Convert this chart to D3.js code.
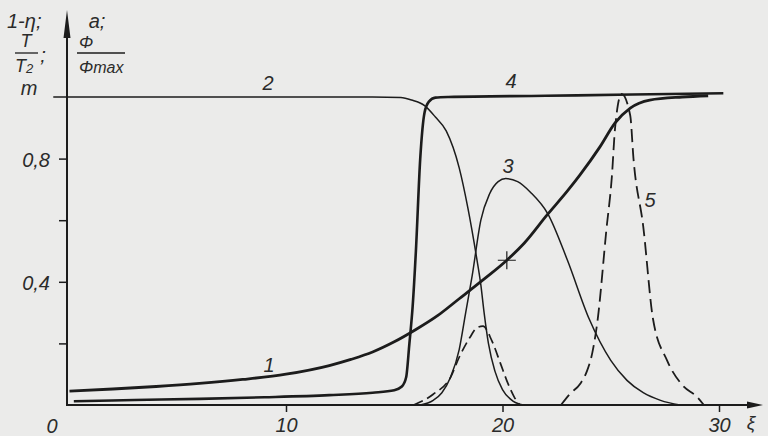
<!DOCTYPE html>
<html>
<head>
<meta charset="utf-8">
<script src="https://cdnjs.cloudflare.com/ajax/libs/d3/7.8.5/d3.min.js"></script>
<style>
body { margin: 0; background: #ebebea; }
svg { display: block; }
text { font-family: "Liberation Sans", "DejaVu Sans", sans-serif; font-style: italic; fill: #2b2b2b; }
</style>
</head>
<body>
<svg id="svg" width="768" height="436"></svg>
<script>
// curve 1 (thick)
var xi1 = [0, 2, 4, 6, 8, 10, 12, 13, 14, 15, 16, 17, 18, 19.1, 20.2, 21, 22.06, 23, 23.58, 24.5, 25.2, 25.9, 26.8, 28.3, 29.5];
var c1  = [0.045, 0.052, 0.06, 0.07, 0.083, 0.1, 0.128, 0.148, 0.172, 0.205, 0.245, 0.29, 0.345, 0.406, 0.47, 0.525, 0.617, 0.695, 0.747, 0.838, 0.916, 0.964, 0.99, 1.0, 1.004];
// curve 4 (thick, steep rise)
var xi4 = [0.2, 3, 6, 9, 12, 14, 15, 15.35, 15.55, 15.7, 15.85, 16.0, 16.2, 16.4, 16.6, 16.9, 17.5, 22, 26, 30.2];
var c4  = [0.012, 0.016, 0.02, 0.025, 0.032, 0.04, 0.048, 0.06, 0.09, 0.2, 0.32, 0.5, 0.8, 0.95, 0.985, 0.998, 1.0, 1.004, 1.008, 1.012];
// curve 2 (thin)
var xi2 = [-0.75, 5, 10, 14, 15.3, 15.8, 16.4, 16.9, 17.4, 18.0, 18.4, 18.8, 19.0, 19.15, 19.35, 19.65, 20.0, 20.5, 21.0];
var c2  = [1.0, 1.0, 1.0, 1.0, 0.998, 0.99, 0.972, 0.935, 0.89, 0.77, 0.64, 0.48, 0.39, 0.3, 0.2, 0.11, 0.05, 0.012, 0];
// curve 3 (thin)
var xi3 = [16.2, 16.8, 17.2, 17.6, 18.0, 18.3, 18.6, 19.0, 19.4, 19.8, 20.15, 20.7, 21.3, 22.1, 23.0, 24.0, 25.0, 25.75, 26.5, 27.3, 28.2];
var c3  = [0, 0.015, 0.04, 0.09, 0.18, 0.3, 0.42, 0.6, 0.685, 0.725, 0.735, 0.725, 0.69, 0.62, 0.47, 0.28, 0.145, 0.08, 0.04, 0.015, 0];
// small dashed peak
var xiD = [15.9, 16.8, 17.6, 18.0, 18.5, 18.8, 19.1, 19.5, 19.9, 20.25, 20.55, 20.8];
var cD  = [0, 0.035, 0.09, 0.155, 0.22, 0.25, 0.256, 0.21, 0.136, 0.07, 0.025, 0];
// curve 5 (dashed)
var xi5 = [22.7, 23.1, 23.6, 23.9, 24.15, 24.4, 24.8, 25.05, 25.2, 25.5, 25.9, 26.05, 26.5, 26.95, 27.6, 28.3, 29.0, 29.3];
var c5  = [0, 0.035, 0.07, 0.11, 0.17, 0.28, 0.57, 0.74, 0.9, 1.01, 0.94, 0.8, 0.58, 0.28, 0.145, 0.065, 0.025, 0];

var xTicks = [10, 20, 30];
var yTicks = [0.2, 0.4, 0.6, 0.8];
var yLabels = {"0.4": "0,4", "0.8": "0,8"};

var svg = d3.select("#svg");
var x = d3.scaleLinear().domain([0, 30]).range([69.5, 719]);
var y = d3.scaleLinear().domain([0, 1]).range([405, 97]);

var line = d3.line()
    .x(function(d) { return x(d[0]); })
    .y(function(d) { return y(d[1]); })
    .curve(d3.curveMonotoneX);

var ink = "#1c1c1c";
var x0 = 67;

// axes
svg.append("line").attr("x1", x0).attr("y1", 406).attr("x2", x0).attr("y2", 30)
    .attr("stroke", ink).attr("stroke-width", 2);
svg.append("path").attr("d", "M" + x0 + ",10 L" + (x0 - 3.5) + ",38 L" + (x0 + 3.5) + ",38 Z").attr("fill", ink);
svg.append("line").attr("x1", x0 - 1).attr("y1", 405).attr("x2", 750).attr("y2", 405)
    .attr("stroke", ink).attr("stroke-width", 2);
svg.append("path").attr("d", "M763,405 L747,401.5 L747,408.5 Z").attr("fill", ink);

var xa = svg.append("g").attr("transform", "translate(0,405)")
    .call(d3.axisBottom(x).tickValues(xTicks).tickSize(7).tickPadding(6));
var ya = svg.append("g").attr("transform", "translate(" + x0 + ",0)")
    .call(d3.axisLeft(y).tickValues(yTicks).tickSize(8).tickPadding(9)
        .tickFormat(function(d) { return yLabels[d] || ""; }));
[xa, ya].forEach(function(a) {
    a.select(".domain").remove();
    a.selectAll("line").attr("stroke", ink).attr("stroke-width", 1.5);
    a.selectAll("text").attr("font-size", 20).attr("fill", "#2b2b2b")
        .attr("font-family", "'Liberation Sans', sans-serif").attr("font-style", "italic");
});
ya.selectAll("text").attr("dy", "0.4em");

// curves
var series = [
    {xs: xi1, ys: c1, w: 2.8, dash: null},
    {xs: xi4, ys: c4, w: 2.6, dash: null},
    {xs: xi2, ys: c2, w: 1.5, dash: null},
    {xs: xi3, ys: c3, w: 1.5, dash: null},
    {xs: xiD, ys: cD, w: 1.7, dash: "10,5"},
    {xs: xi5, ys: c5, w: 1.8, dash: "13,6"}
];
svg.selectAll("path.curve").data(series).enter().append("path")
    .attr("class", "curve")
    .attr("d", function(s) { return line(d3.zip(s.xs, s.ys)); })
    .attr("fill", "none")
    .attr("stroke", ink)
    .attr("stroke-width", function(s) { return s.w; })
    .attr("stroke-dasharray", function(s) { return s.dash; });

// cross marker on curve 1
var mx = x(20.2), my = y(0.47);
svg.append("path").attr("d", "M" + (mx - 9) + "," + my + "H" + (mx + 9) + "M" + mx + "," + (my - 9) + "V" + (my + 9))
    .attr("stroke", ink).attr("stroke-width", 1.2);

// labels
function label(t, px, py, size, anchor) {
    return svg.append("text").attr("x", px).attr("y", py).attr("font-size", size || 20)
        .attr("text-anchor", anchor || "middle").text(t);
}
label("0", 52, 433);
label("\u03be", 751, 429, 19);
label("2", 268, 90);
label("4", 511, 88);
label("3", 508, 173);
label("5", 650, 207);
label("1", 269, 372);

label("1-\u03b7;", 7, 28, 20, "start");
label("T", 26, 47, 18);
svg.append("line").attr("x1", 15).attr("x2", 38).attr("y1", 53).attr("y2", 53).attr("stroke", ink).attr("stroke-width", 1.3);
var t2 = label("T", 24, 72, 18);
t2.append("tspan").attr("font-size", 13).attr("dy", 1).text("2");
label(";", 43, 62, 20);
label("m", 29, 95, 20);
label("a;", 97, 28, 20);
label("\u03a6", 86, 48, 17);
svg.append("line").attr("x1", 77).attr("x2", 125).attr("y1", 53).attr("y2", 53).attr("stroke", ink).attr("stroke-width", 1.3);
var pm = label("\u03a6", 79, 73, 17, "start");
pm.append("tspan").attr("font-size", 16).text("max");
</script>
</body>
</html>
